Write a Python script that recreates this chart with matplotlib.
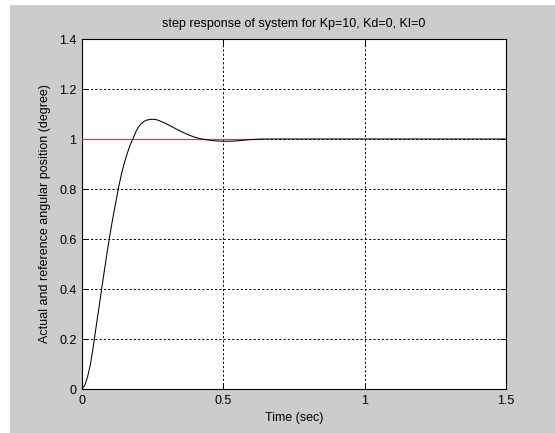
import matplotlib
matplotlib.use("Agg")
import matplotlib.pyplot as plt
from matplotlib.patches import Rectangle

plt.rcParams['font.family'] = ['Liberation Sans', 'DejaVu Sans']

# Step response
time = [0.00, 0.01, 0.02, 0.03, 0.04, 0.05, 0.06, 0.07, 0.08, 0.09,
        0.10, 0.11, 0.12, 0.13, 0.14, 0.15, 0.16, 0.17, 0.18, 0.19,
        0.20, 0.21, 0.22, 0.23, 0.24, 0.25, 0.26, 0.27, 0.28, 0.30,
        0.32, 0.34, 0.36, 0.38, 0.40, 0.42, 0.44, 0.46, 0.48, 0.50,
        0.52, 0.54, 0.56, 0.58, 0.60, 0.64, 0.70, 0.80, 1.00, 1.20, 1.50]
response = [0.000, 0.015, 0.050, 0.100, 0.170, 0.250, 0.325, 0.405, 0.480, 0.555,
            0.625, 0.690, 0.750, 0.810, 0.862, 0.905, 0.942, 0.975, 1.000, 1.028,
            1.048, 1.062, 1.071, 1.076, 1.078, 1.079, 1.078, 1.075, 1.070, 1.060,
            1.048, 1.036, 1.025, 1.015, 1.007, 1.001, 0.997, 0.994, 0.992, 0.991,
            0.991, 0.992, 0.994, 0.996, 0.998, 1.000, 1.000, 1.000, 1.000, 1.000, 1.000]

ref_time = [0.0, 0.64]
ref_value = [1.0, 1.0]

title = "step response of system for Kp=10, Kd=0, KI=0"
xlabel = "Time (sec)"
ylabel = "Actual and reference angular position (degree)"
xticks = [0, 0.5, 1, 1.5]
xticklabels = ["0", "0.5", "1", "1.5"]
yticks = [0, 0.2, 0.4, 0.6, 0.8, 1.0, 1.2, 1.4]
yticklabels = ["0", "0.2", "0.4", "0.6", "0.8", "1", "1.2", "1.4"]

W, H = 555, 433
fig = plt.figure(figsize=(W / 100, H / 100), dpi=100, facecolor='white')
fig.patches.append(Rectangle((10 / W, 0), 1 - 10 / W, 1 - 5 / H,
                             transform=fig.transFigure, facecolor='#cccccc',
                             edgecolor='none', zorder=-10))

ax = fig.add_axes([82 / W, 1 - 389 / H, (506 - 82) / W, (389 - 39) / H])
ax.set_facecolor('white')

ax.plot(ref_time, ref_value, color='#ff3030', lw=0.9, zorder=3)
ax.plot(time, response, color='black', lw=0.75, zorder=4)

ax.set_xlim(0, 1.5)
ax.set_ylim(0, 1.4)
ax.set_xticks(xticks)
ax.set_xticklabels(xticklabels)
ax.set_yticks(yticks)
ax.set_yticklabels(yticklabels)
ax.tick_params(direction='in', length=4, width=0.7, top=True, right=True,
               labelsize=9, pad=4, colors='black')
for s in ax.spines.values():
    s.set_linewidth(0.8)
    s.set_color('black')

ax.grid(True, color='black', linestyle=(0, (2.2, 2.2)), linewidth=0.7)
ax.set_axisbelow(False)

ax.set_title(title, fontsize=9, pad=9)
ax.set_xlabel(xlabel, fontsize=9, labelpad=4)
ax.set_ylabel(ylabel, fontsize=9, labelpad=6)

fig.savefig("out.png", dpi=100, facecolor=fig.get_facecolor())
